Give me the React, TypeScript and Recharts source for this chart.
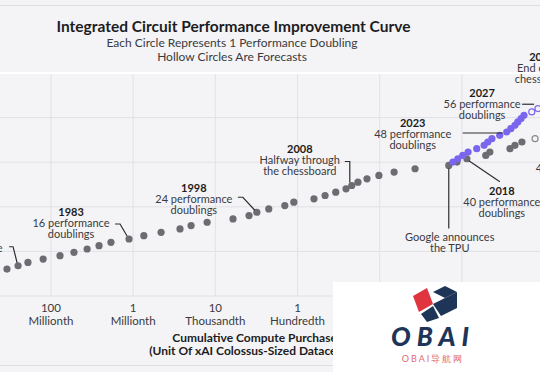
import { ScatterChart, Scatter, XAxis, YAxis, CartesianGrid, ReferenceDot, ReferenceLine } from 'recharts'

// x = log10 of cumulative compute purchased (xAI Colossus units), y = performance doublings
const historicalDoublings = [7, 8, 9, 10, 11, 12, 13, 14, 15, 16, 17, 18, 19, 20, 21, 22, 23, 24, 25, 26, 27, 28, 29, 30, 31, 32, 33, 34, 35, 36, 37, 38, 39, 40]
const historicalCompute = [-9.07, -8.8, -8.56, -8.19, -7.78, -7.44, -7.12, -6.83, -6.54, -6.1, -5.74, -5.32, -4.86, -4.59, -4.2, -3.57, -3.18, -2.99, -2.7, -2.31, -2.09, -1.6, -1.33, -1.07, -0.82, -0.68, -0.53, -0.31, -0.02, 0.35, 0.86, 1.68, 1.88, 2.12]

const acceleratorDoublings = [39, 40, 41, 42, 43, 44, 45, 46, 47, 48, 49, 50, 51, 52, 53]
const acceleratorCompute = [1.78, 1.9, 2.02, 2.15, 2.36, 2.54, 2.63, 2.73, 2.92, 3.09, 3.19, 3.29, 3.36, 3.44, 3.51]
const acceleratorForecastDoublings = [54, 55, 56]
const acceleratorForecastCompute = [3.7, 3.85, 4.0]

const otherDoublings = [41, 42, 43, 44, 45]
const otherCompute = [2.58, 2.68, 3.17, 3.29, 3.46]
const otherForecastDoublings = [46]
const otherForecastCompute = [3.78]

const xTicks = [-8, -6, -4, -2, 0, 2]
const xTickLabels: Record<number, [string, string]> = {
  [-8]: ['100', 'Millionth'],
  [-6]: ['1', 'Millionth'],
  [-4]: ['10', 'Thousandth'],
  [-2]: ['1', 'Hundredth'],
  [0]: ['1', ''],
  [2]: ['100', ''],
}

const X_DOMAIN: [number, number] = [-9.24, 3.9]
const Y_DOMAIN: [number, number] = [-1.05, 65.64]
const yGrid = Array.from({ length: 11 }, (_, i) => Y_DOMAIN[0] + (i * (Y_DOMAIN[1] - Y_DOMAIN[0])) / 10)

const toPoints = (xs: number[], ys: number[]) => xs.map((x, i) => ({ x, y: ys[i] }))

const historical = toPoints(historicalCompute, historicalDoublings)
const accelerator = toPoints(acceleratorCompute, acceleratorDoublings)
const acceleratorForecast = toPoints(acceleratorForecastCompute, acceleratorForecastDoublings)
const other = toPoints(otherCompute, otherDoublings)
const otherForecast = toPoints(otherForecastCompute, otherForecastDoublings)

const FONT = 'Lato, "Noto Sans", sans-serif'
const GRAY = '#6c6c72'
const PURPLE = '#7a66ee'
const TEXT = '#3a3a3e'

type Note = {
  x: number
  y: number
  year?: string
  lines: string[]
  dx: number
  dy: number
  anchor?: 'middle' | 'start'
  pointer?: [number, number][]
}

const notes: Note[] = [
  { x: -8.8, y: 8, year: '1975', lines: ['8 performance', 'doublings'], dx: -51, dy: -18, pointer: [[-9, -19], [-5, -19], [-1, -3]] },
  { x: -6.1, y: 16, year: '1983', lines: ['16 performance', 'doublings'], dx: -58, dy: -16, pointer: [[-14, -15], [-9, -15], [-2, -3]] },
  { x: -2.99, y: 24, year: '1998', lines: ['24 performance', 'doublings'], dx: -63, dy: -13, pointer: [[-19, -15], [-14, -15], [-2, -2]] },
  { x: -0.68, y: 32, year: '2008', lines: ['Halfway through', 'the chessboard'], dx: -52, dy: -25, pointer: [[-7, -24], [-2, -24], [-2, -3]] },
  { x: 2.12, y: 40, year: '2018', lines: ['40 performance', 'doublings'], dx: 35, dy: 43, pointer: [[2, 2], [33, 23]] },
  { x: 1.68, y: 38, lines: ['Google announces', 'the TPU'], dx: 1, dy: 72, pointer: [[0, 3], [0, 63]] },
  { x: 3.09, y: 48, year: '2023', lines: ['48 performance', 'doublings'], dx: -94, dy: 2, pointer: [[-44, 1], [-4, 1]] },
  { x: 4.0, y: 56, year: '2027', lines: ['56 performance', 'doublings'], dx: -62, dy: -1, pointer: [[-22, -1], [-10, -1]] },
  { x: 3.9, y: 64, year: '2031', lines: ['End of the', 'chessboard'], dx: 2, dy: -10 },
  { x: 2.58, y: 41, lines: ['44 performance'], dx: 50, dy: 13, anchor: 'start' },
]

const LH = 11

function NoteShape({ cx, cy, note }: { cx: number; cy: number; note: Note }) {
  const tx = cx + note.dx
  const anchor = note.anchor ?? 'middle'
  return (
    <g fontFamily={FONT} fontSize={11} fill={TEXT}>
      {note.pointer && (
        <polyline
          points={note.pointer.map(([px, py]) => `${cx + px},${cy + py}`).join(' ')}
          fill="none"
          stroke="#2e2e32"
          strokeWidth={1.2}
        />
      )}
      {note.year && (
        <text x={tx} y={cy + note.dy - LH + 4} textAnchor={anchor} fontWeight={700} fill="#1c1c20">
          {note.year}
        </text>
      )}
      {note.lines.map((l, i) => (
        <text key={i} x={tx} y={cy + note.dy + i * LH + 4} textAnchor={anchor}>
          {l}
        </text>
      ))}
    </g>
  )
}

const solidDot = (color: string) => (p: any) => <circle cx={p.cx} cy={p.cy} r={3.6} fill={color} />
const hollowDot = (color: string) => (p: any) => (
  <circle cx={p.cx} cy={p.cy} r={3} fill="#f4f4f6" stroke={color} strokeWidth={1.2} />
)

function XTick({ x, y, payload }: any) {
  const [a, b] = xTickLabels[payload.value] ?? ['', '']
  return (
    <g fontFamily={FONT} fontSize={11.5} fill={TEXT}>
      <text x={x} y={y + 16} textAnchor="middle">{a}</text>
      <text x={x} y={y + 29} textAnchor="middle">{b}</text>
    </g>
  )
}

function Watermark() {
  return (
    <div style={{ position: 'absolute', left: 333, top: 282, width: 207, height: 90, background: '#fff' }}>
      <svg width={207} height={90}>
        <polygon points="100,10 112,4 124,10 112,16" fill="#1f3557" />
        <polygon points="80,14 94,6 100,22 86,30" fill="#e0343f" />
        <polygon points="100,22 112,16 124,10 124,26 108,34" fill="#1f3557" />
        <polygon points="88,32 100,24 106,36 94,40" fill="#1f3557" />
        <text x={100} y={64} textAnchor="middle" fontFamily={FONT} fontSize={26} fontWeight={900} fontStyle="italic" fill="#1f3557" letterSpacing={6}>
          OBAI
        </text>
        <text x={100} y={80} textAnchor="middle" fontFamily={FONT} fontSize={9} fill="#e06a74" letterSpacing={2}>
          OBAI导航网
        </text>
      </svg>
    </div>
  )
}

export default function App() {
  return (
    <div style={{ position: 'fixed', left: 0, top: 0, width: 540, height: 372, background: '#f4f4f6', overflow: 'hidden', fontFamily: FONT }}>
      <div style={{ position: 'absolute', left: 0, top: 5, width: 540, height: 1, background: '#dedee2' }} />
      <div style={{ position: 'absolute', left: 0, top: 365, width: 540, height: 1, background: '#dedee2' }} />
      <div style={{ position: 'absolute', left: 0, top: 17, width: 467, textAlign: 'center', fontSize: 15.5, lineHeight: '19px', fontWeight: 700, color: '#1c1c22' }}>
        Integrated Circuit Performance Improvement Curve
      </div>
      <div style={{ position: 'absolute', left: 0, top: 36, width: 464, textAlign: 'center', fontSize: 12, lineHeight: '14px', color: TEXT }}>
        Each Circle Represents 1 Performance Doubling
        <br />
        Hollow Circles Are Forecasts
      </div>
      <ScatterChart width={540} height={372} margin={{ top: 73, right: 0, bottom: 46, left: 0 }} style={{ position: 'absolute', left: 0, top: 0 }}>
        <CartesianGrid stroke="#e1e1e6" strokeWidth={1} horizontalValues={yGrid} verticalValues={xTicks} />
        <XAxis
          type="number"
          dataKey="x"
          domain={X_DOMAIN}
          allowDataOverflow
          ticks={xTicks}
          interval={0}
          axisLine={false}
          tickLine={false}
          tickSize={0}
          tickMargin={0}
          height={30}
          tick={<XTick />}
        />
        <YAxis type="number" dataKey="y" domain={Y_DOMAIN} allowDataOverflow ticks={yGrid} hide />
        <ReferenceLine y={Y_DOMAIN[1]} stroke="#ffffff" strokeWidth={2} />
        <Scatter data={historical} shape={solidDot(GRAY)} isAnimationActive={false} />
        <Scatter data={other} shape={solidDot(GRAY)} isAnimationActive={false} />
        <Scatter data={otherForecast} shape={hollowDot('#8a8a90')} isAnimationActive={false} />
        <Scatter data={accelerator} shape={solidDot(PURPLE)} isAnimationActive={false} />
        <Scatter data={acceleratorForecast} shape={hollowDot(PURPLE)} isAnimationActive={false} />
        {notes.map((n, i) => (
          <ReferenceDot
            key={i}
            x={n.x}
            y={n.y}
            r={0}
            ifOverflow="visible"
            shape={(p: any) => <NoteShape cx={p.cx} cy={p.cy} note={n} />}
          />
        ))}
      </ScatterChart>
      <div style={{ position: 'absolute', left: 0, top: 331, width: 516, textAlign: 'center', fontSize: 12, fontWeight: 700, lineHeight: '13px', color: '#1c1c22' }}>
        Cumulative Compute Purchased
        <br />
        (Unit Of xAI Colossus-Sized Datacenters)
      </div>
      <Watermark />
    </div>
  )
}
